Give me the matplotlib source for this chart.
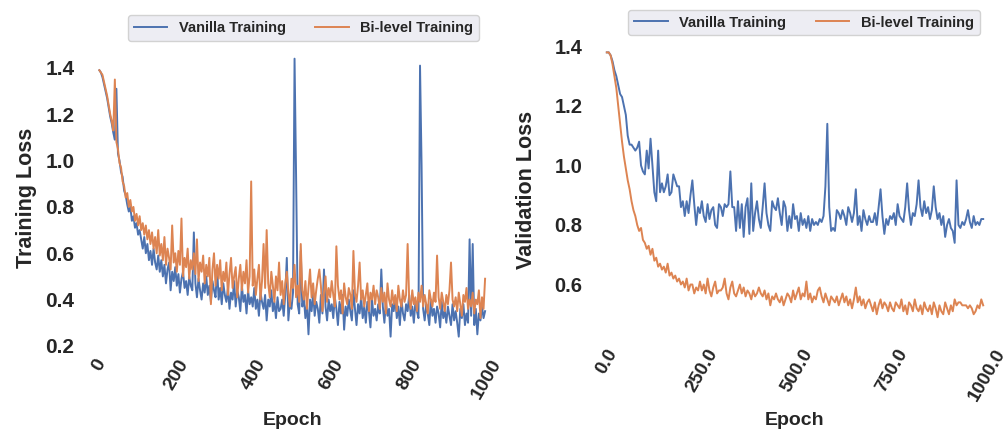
import numpy as np
import matplotlib
matplotlib.use("Agg")
import matplotlib.pyplot as plt

# ---- data -------------------------------------------------------------
train_epochs = np.arange(0, 1000, 4)          # 250 points
val_epochs = np.arange(0, 995, 5)             # 199 points

train_vanilla = [
    1.39, 1.38, 1.36, 1.33, 1.30, 1.27, 1.23, 1.19, 1.16, 1.12,
    1.09, 1.31, 1.03, 1.00, 0.95, 0.93, 0.87, 0.85, 0.81, 0.78,
    0.80, 0.74, 0.76, 0.71, 0.73, 0.68, 0.70, 0.66, 0.62, 0.67,
    0.60, 0.64, 0.57, 0.61, 0.55, 0.62, 0.56, 0.53, 0.59, 0.52,
    0.57, 0.50, 0.55, 0.47, 0.53, 0.56, 0.44, 0.52, 0.48, 0.54,
    0.46, 0.51, 0.43, 0.49, 0.52, 0.45, 0.48, 0.42, 0.50, 0.46,
    0.44, 0.69, 0.47, 0.41, 0.49, 0.44, 0.40, 0.47, 0.43, 0.50,
    0.42, 0.46, 0.39, 0.48, 0.44, 0.41, 0.54, 0.40, 0.45, 0.38,
    0.47, 0.42, 0.39, 0.45, 0.36, 0.43, 0.40, 0.48, 0.37, 0.44,
    0.41, 0.35, 0.46, 0.39, 0.42, 0.34, 0.44, 0.38, 0.41, 0.37,
    0.45, 0.36, 0.40, 0.33, 0.43, 0.39, 0.36, 0.42, 0.31, 0.40,
    0.37, 0.44, 0.35, 0.39, 0.32, 0.41, 0.35, 0.36, 0.40, 0.33,
    0.42, 0.58, 0.31, 0.39, 0.36, 0.43, 1.44, 0.93, 0.38, 0.34,
    0.61, 0.37, 0.41, 0.32, 0.38, 0.25, 0.40, 0.35, 0.43, 0.33,
    0.39, 0.36, 0.30, 0.42, 0.34, 0.53, 0.37, 0.31, 0.40, 0.35,
    0.38, 0.32, 0.41, 0.36, 0.29, 0.39, 0.34, 0.42, 0.27, 0.37,
    0.33, 0.40, 0.35, 0.31, 0.44, 0.36, 0.29, 0.38, 0.34, 0.41,
    0.32, 0.37, 0.30, 0.39, 0.35, 0.28, 0.40, 0.33, 0.36, 0.31,
    0.38, 0.34, 0.53, 0.37, 0.30, 0.39, 0.33, 0.36, 0.24, 0.38,
    0.35, 0.41, 0.32, 0.37, 0.29, 0.40, 0.34, 0.31, 0.38, 0.35,
    0.42, 0.33, 0.37, 0.30, 0.39, 0.35, 0.32, 1.41, 0.98, 0.36,
    0.31, 0.38, 0.34, 0.29, 0.40, 0.33, 0.36, 0.30, 0.37, 0.34,
    0.28, 0.39, 0.32, 0.35, 0.30, 0.37, 0.33, 0.29, 0.38, 0.31,
    0.35, 0.30, 0.24, 0.36, 0.32, 0.38, 0.29, 0.34, 0.30, 0.66,
    0.33, 0.64, 0.29, 0.36, 0.25, 0.34, 0.31, 0.37, 0.32, 0.35,
]

train_bilevel = [
    1.39, 1.38, 1.37, 1.34, 1.31, 1.28, 1.24, 1.20, 1.17, 1.13,
    1.35, 1.08, 1.05, 0.99, 0.97, 0.91, 0.89, 0.84, 0.86, 0.80,
    0.83, 0.78, 0.80, 0.74, 0.77, 0.72, 0.76, 0.70, 0.73, 0.68,
    0.72, 0.66, 0.70, 0.64, 0.69, 0.62, 0.67, 0.60, 0.70, 0.59,
    0.64, 0.57, 0.67, 0.55, 0.62, 0.58, 0.53, 0.72, 0.56, 0.60,
    0.52, 0.61, 0.55, 0.75, 0.50, 0.58, 0.54, 0.62, 0.49, 0.57,
    0.53, 0.60, 0.51, 0.66, 0.48, 0.56, 0.52, 0.59, 0.47, 0.55,
    0.50, 0.58, 0.38, 0.53, 0.60, 0.46, 0.55, 0.49, 0.57, 0.44,
    0.52, 0.48, 0.56, 0.42, 0.51, 0.58, 0.45, 0.50, 0.54, 0.41,
    0.49, 0.55, 0.44, 0.52, 0.47, 0.57, 0.43, 0.50, 0.91, 0.46,
    0.53, 0.42, 0.49, 0.55, 0.40, 0.48, 0.64, 0.45, 0.70, 0.47,
    0.41, 0.52, 0.46, 0.39, 0.50, 0.44, 0.56, 0.42, 0.48, 0.38,
    0.47, 0.52, 0.43, 0.37, 0.49, 0.45, 0.55, 0.41, 0.46, 0.39,
    0.64, 0.44, 0.40, 0.48, 0.36, 0.45, 0.53, 0.41, 0.47, 0.38,
    0.44, 0.49, 0.53, 0.46, 0.35, 0.43, 0.50, 0.39, 0.45, 0.41,
    0.48, 0.42, 0.37, 0.63, 0.46, 0.40, 0.44, 0.34, 0.47, 0.41,
    0.38, 0.45, 0.42, 0.36, 0.61, 0.43, 0.39, 0.46, 0.56, 0.40,
    0.44, 0.37, 0.42, 0.47, 0.35, 0.43, 0.40, 0.46, 0.38, 0.44,
    0.41, 0.36, 0.45, 0.39, 0.43, 0.34, 0.47, 0.40, 0.37, 0.44,
    0.38, 0.42, 0.35, 0.46, 0.40, 0.37, 0.44, 0.39, 0.42, 0.64,
    0.40, 0.36, 0.44, 0.38, 0.41, 0.35, 0.43, 0.39, 0.46, 0.37,
    0.42, 0.38, 0.34, 0.44, 0.40, 0.37, 0.43, 0.39, 0.59, 0.41,
    0.36, 0.43, 0.39, 0.35, 0.42, 0.38, 0.44, 0.56, 0.40, 0.37,
    0.41, 0.35, 0.43, 0.38, 0.33, 0.42, 0.39, 0.45, 0.36, 0.40,
    0.37, 0.43, 0.34, 0.40, 0.38, 0.44, 0.32, 0.41, 0.36, 0.49,
]

val_vanilla = [
    1.38, 1.38, 1.37, 1.35, 1.32, 1.30, 1.27, 1.24, 1.23, 1.20,
    1.17, 1.10, 1.07, 1.07, 1.06, 1.05, 1.06, 1.08, 1.00, 0.98,
    0.97, 1.05, 0.99, 1.09, 1.00, 0.91, 0.88, 1.05, 0.91, 0.94,
    0.91, 0.93, 0.97, 0.90, 0.91, 0.97, 0.95, 0.93, 0.93, 0.86,
    0.88, 0.83, 0.88, 0.84, 0.90, 0.95, 0.87, 0.80, 0.86, 0.84,
    0.88, 0.83, 0.81, 0.87, 0.82, 0.85, 0.86, 0.80, 0.79, 0.87,
    0.86, 0.83, 0.87, 0.86, 0.87, 0.98, 0.86, 0.86, 0.78, 0.88,
    0.79, 0.87, 0.76, 0.86, 0.89, 0.77, 0.94, 0.78, 0.84, 0.88,
    0.82, 0.79, 0.86, 0.94, 0.84, 0.80, 0.78, 0.88, 0.86, 0.85,
    0.89, 0.84, 0.80, 0.88, 0.86, 0.78, 0.83, 0.79, 0.87, 0.82,
    0.83, 0.78, 0.84, 0.80, 0.82, 0.79, 0.83, 0.78, 0.82, 0.80,
    0.81, 0.80, 0.82, 0.81, 0.83, 0.93, 1.14, 0.86, 0.78, 0.79,
    0.78, 0.85, 0.84, 0.82, 0.85, 0.83, 0.80, 0.86, 0.84, 0.81,
    0.84, 0.92, 0.80, 0.83, 0.78, 0.85, 0.82, 0.80, 0.83, 0.81,
    0.81, 0.84, 0.80, 0.86, 0.92, 0.83, 0.77, 0.82, 0.80, 0.83,
    0.82, 0.84, 0.80, 0.87, 0.83, 0.82, 0.81, 0.86, 0.94, 0.85,
    0.80, 0.84, 0.83, 0.87, 0.95, 0.86, 0.83, 0.88, 0.84, 0.86,
    0.82, 0.85, 0.93, 0.86, 0.82, 0.84, 0.80, 0.83, 0.76, 0.80,
    0.82, 0.79, 0.78, 0.74, 0.95, 0.80, 0.79, 0.81, 0.80, 0.82,
    0.85, 0.81, 0.79, 0.83, 0.80, 0.81, 0.80, 0.82, 0.82,
]

val_bilevel = [
    1.38, 1.38, 1.37, 1.34, 1.30, 1.26, 1.20, 1.14, 1.08, 1.03,
    0.99, 0.95, 0.92, 0.88, 0.85, 0.83, 0.80, 0.78, 0.79, 0.75,
    0.74, 0.72, 0.73, 0.70, 0.72, 0.68, 0.69, 0.66, 0.67, 0.65,
    0.66, 0.64, 0.67, 0.63, 0.64, 0.62, 0.63, 0.61, 0.62, 0.60,
    0.61, 0.59, 0.62, 0.58, 0.60, 0.60, 0.57, 0.59, 0.58, 0.61,
    0.58, 0.60, 0.57, 0.62, 0.58, 0.56, 0.59, 0.61, 0.57, 0.58,
    0.58, 0.59, 0.62, 0.57, 0.55, 0.59, 0.61, 0.57, 0.56, 0.58,
    0.60, 0.57, 0.59, 0.56, 0.58, 0.57, 0.55, 0.58, 0.56, 0.57,
    0.59, 0.57, 0.56, 0.58, 0.55, 0.57, 0.53, 0.56, 0.55, 0.57,
    0.55, 0.54, 0.56, 0.53, 0.55, 0.57, 0.56, 0.54, 0.58, 0.55,
    0.57, 0.59, 0.55, 0.57, 0.56, 0.61, 0.55, 0.57, 0.54, 0.56,
    0.55, 0.58, 0.59, 0.56, 0.54, 0.57, 0.55, 0.53, 0.56, 0.55,
    0.54, 0.56, 0.53, 0.55, 0.57, 0.54, 0.56, 0.53, 0.55, 0.52,
    0.55, 0.59, 0.54, 0.56, 0.53, 0.55, 0.52, 0.54, 0.55, 0.53,
    0.51, 0.54, 0.50, 0.53, 0.55, 0.52, 0.54, 0.53, 0.51, 0.54,
    0.52, 0.51, 0.54, 0.53, 0.52, 0.55, 0.51, 0.53, 0.50, 0.54,
    0.53, 0.51, 0.55, 0.52, 0.51, 0.53, 0.50, 0.54, 0.52, 0.51,
    0.53, 0.50, 0.54, 0.52, 0.49, 0.53, 0.51, 0.50, 0.54, 0.52,
    0.50, 0.53, 0.51, 0.55, 0.53, 0.54, 0.54, 0.53, 0.53, 0.53,
    0.52, 0.53, 0.52, 0.50, 0.51, 0.53, 0.52, 0.55, 0.53,
]

labels = ["Vanilla Training", "Bi-level Training"]
train_xticks = [0, 200, 400, 600, 800, 1000]
val_xticks = [0.0, 250.0, 500.0, 750.0, 1000.0]
train_yticks = [0.2, 0.4, 0.6, 0.8, 1.0, 1.2, 1.4]
val_yticks = [0.6, 0.8, 1.0, 1.2, 1.4]

BLUE, ORANGE = "#4C72B0", "#DD8452"
TXT = "#262626"

plt.rcParams["font.family"] = ["Liberation Sans", "DejaVu Sans"]
plt.rcParams["font.weight"] = "bold"

W, H = 1007, 432
fig = plt.figure(figsize=(W / 100, H / 100), dpi=100)


def px_axes(x0, top, x1, bottom):
    return fig.add_axes([x0 / W, 1 - bottom / H, (x1 - x0) / W, (bottom - top) / H])


def style(ax, xticks, xfmt, yticks, xsize, ysize):
    for s in ax.spines.values():
        s.set_visible(False)
    ax.tick_params(length=0, pad=4, colors=TXT)
    ax.set_xticks(xticks)
    ax.set_xticklabels([xfmt(v) for v in xticks], rotation=60,
                       fontweight="bold", fontsize=xsize)
    ax.set_yticks(yticks)
    ax.set_yticklabels([f"{v:.1f}" for v in yticks], fontweight="bold", fontsize=ysize)


def legend(ax, cx, cy):
    leg = ax.legend(labels, loc="center", ncol=2, bbox_to_anchor=(cx / W, 1 - cy / H),
                    bbox_transform=fig.transFigure, fontsize=10.5, frameon=True,
                    facecolor="#EAEAF2", edgecolor="#CCCCCC", framealpha=0.85,
                    handlelength=2.3, columnspacing=2.0)
    for t in leg.get_texts():
        t.set_fontweight("bold")
        t.set_color(TXT)


# ---- left: training loss ----------------------------------------------
ax1 = px_axes(80, 45, 506, 351)
ax1.plot(train_epochs, train_vanilla, color=BLUE, lw=1.4)
ax1.plot(train_epochs, train_bilevel, color=ORANGE, lw=1.4)
ax1.set_xlim(-50, 1050)
ax1.set_ylim(0.178, 1.499)
style(ax1, train_xticks, lambda v: f"{v:d}", train_yticks, 14, 15)
ax1.set_xlabel("Epoch", fontsize=14, fontweight="bold", color=TXT)
ax1.set_ylabel("Training Loss", fontsize=15.5, fontweight="bold", color=TXT)
ax1.xaxis.set_label_coords(0.5, -0.199)
ax1.yaxis.set_label_coords(-0.101, 0.5)
legend(ax1, 303.5, 28)

# ---- right: validation loss -------------------------------------------
ax2 = px_axes(588, 39, 1002, 340)
ax2.plot(val_epochs, val_vanilla, color=BLUE, lw=1.4)
ax2.plot(val_epochs, val_bilevel, color=ORANGE, lw=1.4)
ax2.set_xlim(-49.5, 1039.5)
ax2.set_ylim(0.4135, 1.425)
style(ax2, val_xticks, lambda v: f"{v:.1f}", val_yticks, 13.5, 14.5)
ax2.set_xlabel("Epoch", fontsize=14, fontweight="bold", color=TXT)
ax2.set_ylabel("Validation Loss", fontsize=15.5, fontweight="bold", color=TXT)
ax2.xaxis.set_label_coords(0.5, -0.239)
ax2.yaxis.set_label_coords(-0.123, 0.5)
legend(ax2, 804, 22.5)

fig.savefig("out.png", dpi=100)
